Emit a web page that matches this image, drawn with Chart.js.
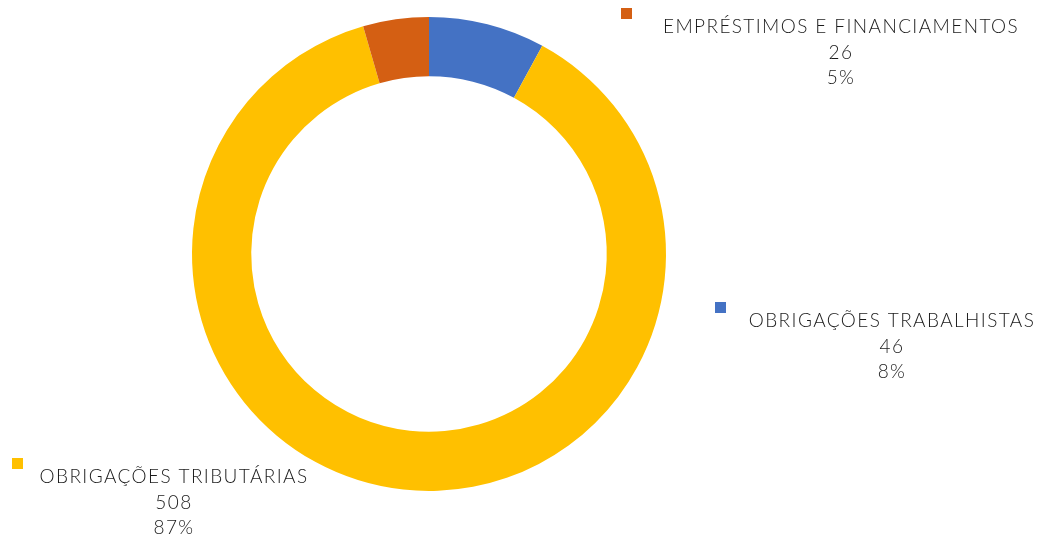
<!DOCTYPE html>
<html>
<head>
<meta charset="utf-8">
<script src="https://cdn.jsdelivr.net/npm/chart.js@4"></script>
<style>
  html, body { margin: 0; padding: 0; background: #fff; }
  #wrap { width: 1042px; height: 539px; position: relative; }
</style>
</head>
<body>
<div id="wrap"><canvas id="donut"></canvas></div>
<script>
"use strict"

// dados
const categorias = ['OBRIGAÇÕES TRABALHISTAS', 'OBRIGAÇÕES TRIBUTÁRIAS', 'EMPRÉSTIMOS E FINANCIAMENTOS'];
const valores = [46, 508, 26];
const percentuais = ['8%', '87%', '5%'];
const cores = ['#4472C4', '#FFC000', '#D45F13'];

// posição dos rótulos em relação ao centro do anel (dx, dy do centro do texto)
const rotulos = [
    { dx: 463, dy: 67, mx: 286 },
    { dx: -255, dy: 223, mx: -417 },
    { dx: 412, dy: -227, mx: 192 }
];

// plugin simples que escreve os rótulos externos com o quadradinho da cor
const rotuloPlugin = {
    id: 'rotulos',
    afterDraw(chart) {
        const ctx = chart.ctx;
        const arc = chart.getDatasetMeta(0).data[0];
        const cx = arc.x, cy = arc.y;
        ctx.save();
        ctx.font = '300 19px Lato';
        ctx.letterSpacing = '1.4px';
        ctx.textAlign = 'center';
        ctx.textBaseline = 'middle';
        rotulos.forEach((r, i) => {
            const x = cx + r.dx, y = cy + r.dy;
            ctx.fillStyle = '#1a1a1a';
            ctx.fillText(categorias[i], x, y);
            ctx.fillText(String(valores[i]), x, y + 26);
            ctx.fillText(percentuais[i], x, y + 51);
            ctx.fillStyle = cores[i];
            ctx.fillRect(cx + r.mx, y - 19, 11, 11);
        });
        ctx.restore();
    }
};

new Chart(document.getElementById('donut'), {
    type: 'doughnut',
    data: {
        labels: categorias,
        datasets: [{
            data: valores,
            backgroundColor: cores,
            borderWidth: 0
        }]
    },
    options: {
        responsive: true,
        maintainAspectRatio: false,
        animation: false,
        cutout: '75%',
        layout: { padding: { left: 192, right: 376, top: 17, bottom: 48 } },
        plugins: {
            legend: { display: false },
            tooltip: { enabled: false }
        }
    },
    plugins: [rotuloPlugin]
});
</script>
</body>
</html>
